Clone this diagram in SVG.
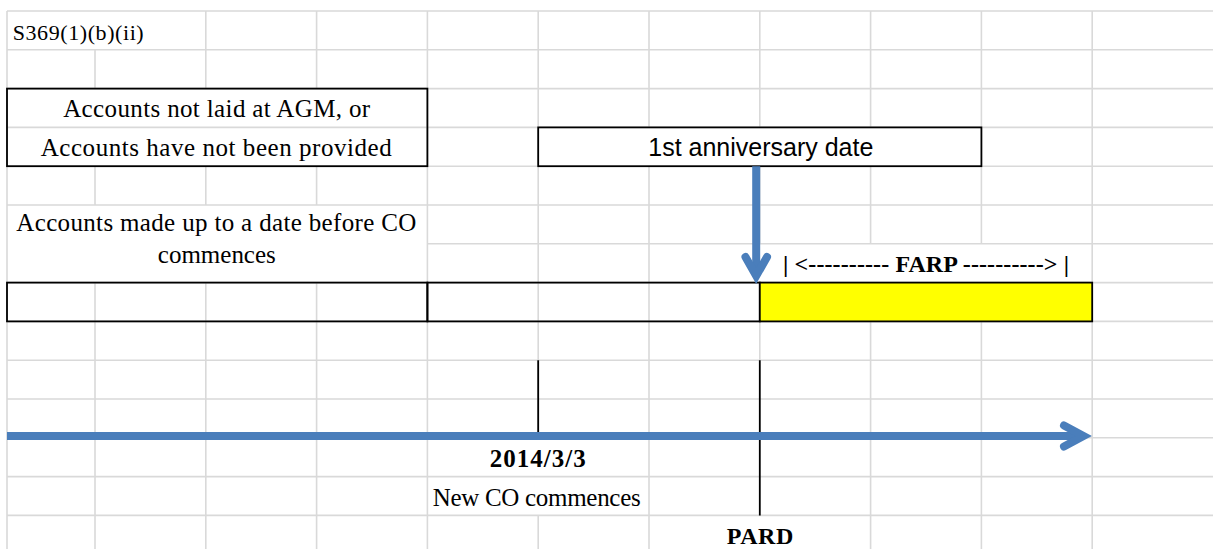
<svg xmlns="http://www.w3.org/2000/svg" width="1213" height="549" viewBox="0 0 1213 549">
<style>
.g{stroke:#d9d9d9;stroke-width:1.6;fill:none}
.b{stroke:#000;stroke-width:1.8;fill:none}
.t{font-family:"Liberation Serif","Times New Roman",serif;font-size:25px;fill:#000}
.tb{font-family:"Liberation Serif","Times New Roman",serif;font-size:24px;font-weight:bold;fill:#000}
.ts{font-family:"Liberation Sans",Arial,sans-serif;font-size:25px;fill:#000}
.ar{stroke:#4a7ebb;stroke-width:8;fill:none}
</style>
<rect x="0" y="0" width="1213" height="549" fill="#fff"/>
<g id="grid" class="g">
<path d="M7,11H1213M7,49.8H1213M7,88.6H1213M7,127.4H1213M7,166.2H1213M7,205H1213M427.4,243.8H1213M7,282.6H1213M7,321.4H1213M7,360.2H1213M7,399H1213M7,437.8H1213M7,476.6H1213M7,515.4H1213"/>
<path d="M7,11V549M95,49.8V88.6M95,166.2V205M95,282.6V549M205.8,11V88.6M205.8,166.2V205M205.8,282.6V549M316.6,11V88.6M316.6,166.2V205M316.6,282.6V549M427.4,11V549M538.2,11V437.8M538.2,515.4V549M649,11V127.4M649,166.2V549M759.8,11V127.4M759.8,166.2V243.8M759.8,282.6V360.2M870.6,11V127.4M870.6,166.2V243.8M870.6,282.6V549M981.4,11V243.8M981.4,282.6V549M1092.2,11V549"/>
</g>
<g id="title"><text class="t" x="12.7" y="39.5" style="font-size:22px" textLength="131" lengthAdjust="spacing">S369(1)(b)(ii)</text></g>
<g id="box-accounts-not-laid">
<rect class="b" x="7" y="88.6" width="420.4" height="77.6"/>
<text class="t" x="216.7" y="116.7" text-anchor="middle" textLength="307" lengthAdjust="spacing">Accounts not laid at AGM, or</text>
<text class="t" x="216.2" y="155.7" text-anchor="middle" textLength="351" lengthAdjust="spacing">Accounts have not been provided</text>
</g>
<g id="box-anniversary">
<rect class="b" x="538.2" y="127.4" width="443.2" height="38.8" style="fill:#fff"/>
<text class="ts" x="760.8" y="156" text-anchor="middle" textLength="225" lengthAdjust="spacing">1st anniversary date</text>
</g>
<g id="label-accounts-made">
<text class="t" x="216.3" y="230.7" text-anchor="middle" textLength="400" lengthAdjust="spacing">Accounts made up to a date before CO</text>
<text class="t" x="216.8" y="262.7" text-anchor="middle" textLength="118" lengthAdjust="spacing">commences</text>
</g>
<g id="farp-label"><text class="tb" x="783" y="271.7" textLength="286" lengthAdjust="spacing">| &lt;---------- FARP ----------&gt; |</text></g>
<g id="bar-1"><rect class="b" x="7" y="282.6" width="420.4" height="38.8"/></g>
<g id="bar-2"><rect class="b" x="427.4" y="282.6" width="332.4" height="38.8"/></g>
<g id="bar-farp"><rect class="b" x="759.8" y="282.6" width="332.4" height="38.8" style="fill:#ffff00"/></g>
<g id="date-2014"><text class="tb" x="537.8" y="467.3" style="font-size:25px" text-anchor="middle" textLength="96" lengthAdjust="spacing">2014/3/3</text>
<text class="t" x="536.7" y="505.7" text-anchor="middle" textLength="208" lengthAdjust="spacing">New CO commences</text></g>
<g id="pard"><text class="tb" x="760" y="544" text-anchor="middle" textLength="66.6" lengthAdjust="spacing">PARD</text></g>
<g id="connectors">
<path class="b" d="M538.2,360.2V436M759.8,360.2V515.4"/>
<path class="ar" d="M7,436H1082"/>
<path class="ar" d="M1064,425.5L1083.5,436L1064,446.5" stroke-linecap="round" stroke-linejoin="miter"/>
<path class="ar" d="M756.2,166.2V276"/>
<path class="ar" d="M745.5,257L756.2,276L767,257" stroke-linecap="round" stroke-linejoin="miter"/>
</g>
</svg>
